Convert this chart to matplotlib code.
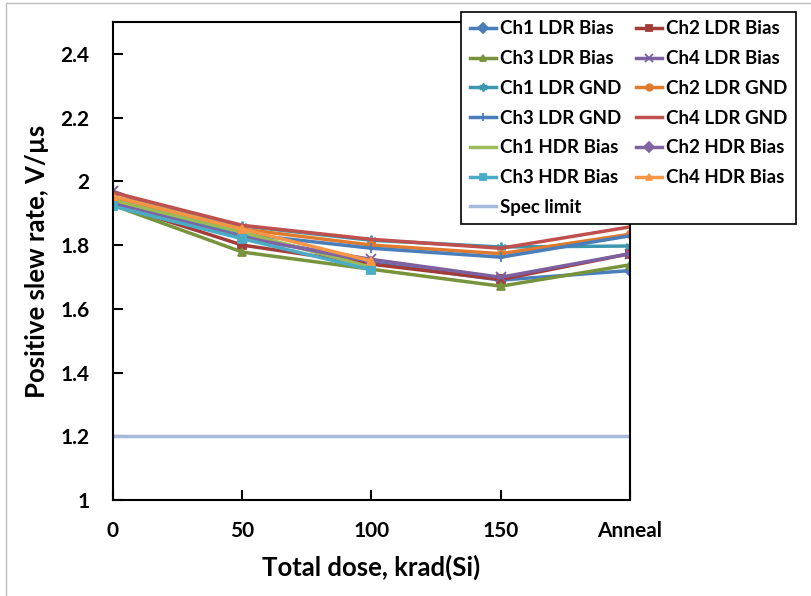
import numpy as np
import matplotlib.pyplot as plt
from matplotlib.patches import Rectangle

plt.rcParams['font.family'] = ['Lato', 'DejaVu Sans']
plt.rcParams['font.weight'] = 'bold'

categories = ['0', '50', '100', '150', 'Anneal']

ch1_ldr_bias = [1.935, 1.830, 1.745, 1.690, 1.720]
ch2_ldr_bias = [1.930, 1.800, 1.740, 1.692, 1.773]
ch3_ldr_bias = [1.925, 1.778, 1.724, 1.671, 1.738]
ch4_ldr_bias = [1.969, 1.822, 1.755, 1.699, 1.773]
ch1_ldr_gnd = [1.950, 1.860, 1.815, 1.794, 1.797]
ch2_ldr_gnd = [1.945, 1.850, 1.800, 1.773, 1.834]
ch3_ldr_gnd = [1.935, 1.835, 1.790, 1.762, 1.829]
ch4_ldr_gnd = [1.965, 1.862, 1.818, 1.790, 1.857]
ch1_hdr_bias = [1.940, 1.840, 1.730]
ch2_hdr_bias = [1.930, 1.825, 1.748]
ch3_hdr_bias = [1.922, 1.820, 1.722]
ch4_hdr_bias = [1.953, 1.850, 1.750]
spec_limit = [1.2, 1.2, 1.2, 1.2, 1.2]

series = [
    ('Ch1 LDR Bias', ch1_ldr_bias, '#4A7EBB', 'D'),
    ('Ch2 LDR Bias', ch2_ldr_bias, '#A33B39', 's'),
    ('Ch3 LDR Bias', ch3_ldr_bias, '#77933C', '^'),
    ('Ch4 LDR Bias', ch4_ldr_bias, '#7D60A0', 'x'),
    ('Ch1 LDR GND', ch1_ldr_gnd, '#3C97AE', (6, 2, 0)),
    ('Ch2 LDR GND', ch2_ldr_gnd, '#E07B2E', 'o'),
    ('Ch3 LDR GND', ch3_ldr_gnd, '#4A7EBB', '+'),
    ('Ch4 LDR GND', ch4_ldr_gnd, '#C0504D', None),
    ('Ch1 HDR Bias', ch1_hdr_bias, '#9BBB59', None),
    ('Ch2 HDR Bias', ch2_hdr_bias, '#8064A2', 'D'),
    ('Ch3 HDR Bias', ch3_hdr_bias, '#4BACC6', 's'),
    ('Ch4 HDR Bias', ch4_hdr_bias, '#F79646', '^'),
]

fig = plt.figure(figsize=(8.12, 5.96), dpi=100)
fig.patches.append(Rectangle((6/812, -0.1), 1.2, 1.1 - 3/596, transform=fig.transFigure,
                             fill=False, edgecolor='#BFBFBF', linewidth=1))
ax = fig.add_axes([113/812, 1 - 500/596, 517/812, 478/596])

x = np.arange(len(categories))
for name, vals, color, marker in series:
    ms = 5.5 if marker not in ('x', '+', (6, 2, 0)) else 7
    ax.plot(x[:len(vals)], vals, color=color, lw=2.5, marker=marker, ms=ms,
            mew=1.3, label=name)
ax.plot(x, spec_limit, color='#A7B9DA', lw=2.5, label='Spec limit')

ax.set_xlim(0, 4)
ax.set_ylim(1, 2.5)
ax.set_yticks([1, 1.2, 1.4, 1.6, 1.8, 2, 2.2, 2.4])
ax.set_yticklabels(['1', '1.2', '1.4', '1.6', '1.8', '2', '2.2', '2.4'])
ax.set_xticks(x)
ax.set_xticklabels(categories)
ax.tick_params(direction='in', length=7, width=1.5, labelsize=15)
ax.tick_params(axis='y', pad=17)
ax.tick_params(axis='x', pad=15)
for s in ax.spines.values():
    s.set_linewidth(1.5)

ax.set_xlabel('Total dose, krad(Si)', fontsize=18.5, fontweight='bold', labelpad=10)
ax.set_ylabel('Positive slew rate, V/\u00b5s', fontsize=18.5, fontweight='bold', labelpad=8)

handles, labels = ax.get_legend_handles_labels()
order = [0, 2, 4, 6, 8, 10, 12, 1, 3, 5, 7, 9, 11]
leg = ax.legend([handles[i] for i in order], [labels[i] for i in order],
                ncol=2, loc='upper right', bbox_to_anchor=(796/812, 1 - 12/596),
                bbox_transform=fig.transFigure, borderaxespad=0, fontsize=13.5,
                frameon=True, fancybox=False, edgecolor='black', handlelength=1.4,
                handletextpad=0.2, columnspacing=0.8, labelspacing=0.68, borderpad=0.45,
                framealpha=1, markerscale=0.85)
leg.get_frame().set_linewidth(1.2)

fig.savefig('out.png', dpi=100)
